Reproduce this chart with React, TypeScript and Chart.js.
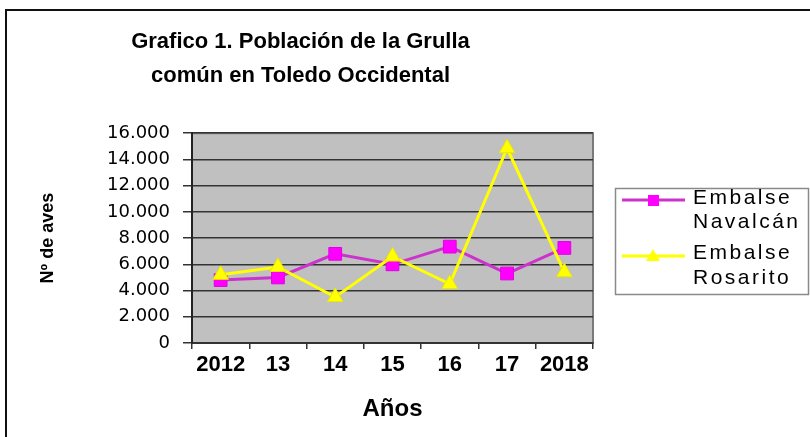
import React, { useEffect, useRef } from "react";
import { Chart, registerables } from "chart.js";

Chart.register(...registerables);

const categories = ["2012", "13", "14", "15", "16", "17", "2018"];
const navalcan = [4800, 5000, 6800, 6000, 7350, 5300, 7250];
const rosarito = [5200, 5800, 3500, 6600, 4500, 14850, 5400];
const yTickLabels = ["0", "2.000", "4.000", "6.000", "8.000", "10.000", "12.000", "14.000", "16.000"];
const titleLines = ["Grafico 1. Población de la Grulla", "común en Toledo Occidental"];
const seriesNames = ["Embalse Navalcán", "Embalse Rosarito"];
const yAxisTitle = "Nº de aves";
const xAxisTitle = "Años";

const FONT = "Arial, 'Liberation Sans', sans-serif";

const plotBg = {
  id: "plotBg",
  beforeDraw(chart: any) {
    const { ctx, chartArea: a } = chart;
    ctx.save();
    ctx.fillStyle = "#c0c0c0";
    ctx.fillRect(a.left, a.top, a.right - a.left, a.bottom - a.top);
    ctx.strokeStyle = "#7a7a7a";
    ctx.lineWidth = 2;
    ctx.strokeRect(a.left, a.top, a.right - a.left, a.bottom - a.top);
    ctx.restore();
  },
};

const legendBox = {
  id: "legendBox",
  afterDraw(chart: any) {
    const ctx = chart.ctx as CanvasRenderingContext2D;
    const x0 = 615, y0 = 188, w = 193, h = 106;
    ctx.save();
    ctx.strokeStyle = "#8a8a8a";
    ctx.lineWidth = 1.5;
    ctx.strokeRect(x0 + 0.5, y0 + 0.5, w, h);
    const rows = [
      { line: 200, text: [198, 222] },
      { line: 256, text: [253, 278] },
    ];
    chart.data.datasets.forEach((ds: any, i: number) => {
      const r = rows[i];
      ctx.strokeStyle = ds.borderColor;
      ctx.lineWidth = 3;
      ctx.beginPath();
      ctx.moveTo(622, r.line);
      ctx.lineTo(685, r.line);
      ctx.stroke();
      ctx.fillStyle = ds.pointBackgroundColor;
      if (ds.pointStyle === "rect") {
        ctx.fillRect(648, r.line - 5, 11, 11);
      } else {
        ctx.beginPath();
        ctx.moveTo(653, r.line - 7);
        ctx.lineTo(660, r.line + 5);
        ctx.lineTo(646, r.line + 5);
        ctx.closePath();
        ctx.fill();
      }
      ctx.fillStyle = "#000";
      ctx.font = `21px ${FONT}`;
      (ctx as any).letterSpacing = "2.5px";
      ctx.textAlign = "left";
      ctx.textBaseline = "middle";
      const parts = String(ds.label).split(" ");
      ctx.fillText(parts[0], 693, r.text[0]);
      ctx.fillText(parts.slice(1).join(" "), 693, r.text[1]);
      (ctx as any).letterSpacing = "0px";
    });
    ctx.restore();
  },
};

export default function App() {
  const ref = useRef<HTMLCanvasElement>(null);
  useEffect(() => {
    const chart = new Chart(ref.current!, {
      type: "line",
      data: {
        labels: categories,
        datasets: [
          {
            label: seriesNames[0],
            data: navalcan,
            borderColor: "#cc33cc",
            backgroundColor: "#ff00ff",
            pointBackgroundColor: "#ff00ff",
            pointBorderColor: "#e000e0",
            pointBorderWidth: 1,
            pointStyle: "rect",
            pointRadius: 9,
            borderWidth: 3,
            tension: 0,
            order: 1,
          },
          {
            label: seriesNames[1],
            data: rosarito,
            borderColor: "#ffff00",
            backgroundColor: "#ffff00",
            pointBackgroundColor: "#ffff00",
            pointBorderColor: "#e8e800",
            pointBorderWidth: 1,
            pointStyle: "triangle",
            pointRadius: 9,
            borderWidth: 3,
            tension: 0,
            order: 0,
          },
        ],
      },
      options: {
        responsive: false,
        animation: false,
        layout: { padding: { left: 8, right: 217, top: 0, bottom: 0 } },
        plugins: {
          legend: { display: false },
          tooltip: { enabled: false },
          title: {
            display: true,
            text: titleLines,
            color: "#000",
            font: { family: FONT, size: 22, weight: "bold", lineHeight: 1.55 },
            padding: { top: 25, bottom: 40 },
          },
        },
        scales: {
          x: {
            offset: true,
            ticks: {
              color: "#000",
              font: { family: FONT, size: 22, weight: "bold" },
              padding: 3,
              autoSkip: false,
              maxRotation: 0,
            },
            grid: {
              offset: true,
              drawOnChartArea: false,
              drawTicks: true,
              tickLength: 6,
              color: "#333",
              lineWidth: 1.5,
            },
            border: { display: true, color: "#333", width: 2 },
            title: {
              display: true,
              text: xAxisTitle,
              color: "#000",
              font: { family: FONT, size: 24, weight: "bold" },
              padding: { top: 0, bottom: 13 },
            },
            afterFit: (s: any) => {
              s.height = 94;
            },
          },
          y: {
            min: 0,
            max: 16000,
            ticks: {
              stepSize: 2000,
              color: "#000",
              font: { family: "'DejaVu Sans', sans-serif", size: 18 },
              padding: 13,
              autoSkip: false,
              callback: (_v: any, i: number) => yTickLabels[i],
            },
            grid: { color: "#333", lineWidth: 1.5, tickLength: 9 },
            border: { display: true, color: "#222", width: 2 },
            title: {
              display: true,
              text: yAxisTitle,
              color: "#000",
              font: { family: FONT, size: 18, weight: "bold" },
              padding: { top: 29, bottom: 0 },
            },
            afterFit: (s: any) => {
              s.width = 184;
            },
          },
        },
      },
      plugins: [plotBg, legendBox],
    } as any);
    return () => chart.destroy();
  }, []);
  return (
    <div style={{ position: "fixed", left: 0, top: 0, width: 810, height: 437, background: "#fff", overflow: "hidden" }}>
      <div
        style={{
          position: "absolute",
          left: 5,
          top: 9,
          right: -20,
          bottom: -20,
          borderLeft: "2px solid #111",
          borderTop: "2px solid #111",
        }}
      />
      <canvas ref={ref} width={810} height={437} style={{ position: "absolute", left: 0, top: 0 }} />
    </div>
  );
}
